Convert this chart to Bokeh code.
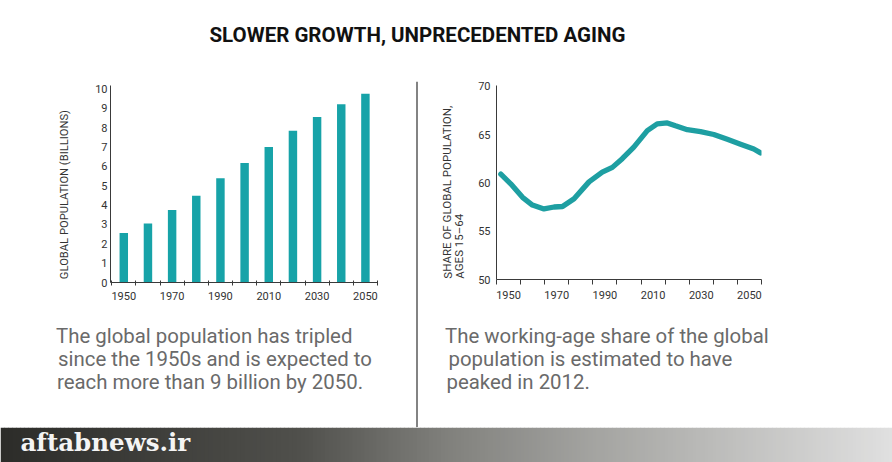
from bokeh.plotting import figure
from bokeh.models import Range1d, FixedTicker, Span, Spacer
from bokeh.layouts import row, column
from bokeh.core.properties import value
from bokeh.embed import file_html
from bokeh.resources import INLINE

# ---------------- data ----------------
TITLE = "SLOWER GROWTH, UNPRECEDENTED AGING"

pop_years = [1950, 1960, 1970, 1980, 1990, 2000, 2010, 2020, 2030, 2040, 2050]
pop_billions = [2.55, 3.05, 3.74, 4.48, 5.38, 6.17, 7.00, 7.83, 8.55, 9.20, 9.74]
pop_yticks = [0, 1, 2, 3, 4, 5, 6, 7, 8, 9, 10]
pop_ylabel = "GLOBAL POPULATION (BILLIONS)"

share_years = [1946.8, 1950.9, 1955.8, 1959.9, 1964.7, 1968.9, 1972.4, 1977.2, 1983.4,
               1988.9, 1993.1, 1997.2, 2002.0, 2007.6, 2011.7, 2015.9, 2019.3, 2024.2,
               2029.7, 2035.2, 2040.8, 2046.3, 2051.8, 2054.6]
share_pct = [60.9, 59.9, 58.5, 57.7, 57.3, 57.5, 57.55, 58.35, 60.1,
             61.1, 61.6, 62.5, 63.7, 65.4, 66.1, 66.2, 65.9, 65.5,
             65.3, 65.0, 64.5, 64.0, 63.5, 63.1]
share_yticks = [50, 55, 60, 65, 70]
share_ylabel = ["SHARE OF GLOBAL POPULATION,", "AGES 15\u201364"]

xtick_labels = [1950, 1970, 1990, 2010, 2030, 2050]
xtick_marks = [1945, 1955, 1965, 1975, 1985, 1995, 2005, 2015, 2025, 2035, 2045, 2055]

caption_left = ["The global population has tripled",
                "since the 1950s and is expected to",
                "reach more than 9 billion by 2050."]
caption_right = ["The working-age share of the global",
                 "population is estimated to have",
                 "peaked in 2012."]
SOURCE = "aftabnews.ir"

# ---------------- styles ----------------
TEAL_BAR = "#17a3a8"
TEAL_LINE = "#1e9fa2"
AXIS = "#3a3a3a"
TXT = "#333333"
CAP = "#6a6a6a"
FONT = "Roboto"


def canvas(w, h):
    p = figure(width=w, height=h, x_range=Range1d(0, w), y_range=Range1d(h, 0),
               output_backend="svg", toolbar_location=None,
               x_axis_location=None, y_axis_location=None, min_border=0)
    p.grid.grid_line_color = None
    p.outline_line_color = None
    p.background_fill_color = "white"
    p.border_fill_color = "white"
    return p


def style_chart(p):
    p.grid.grid_line_color = None
    p.outline_line_color = None
    p.background_fill_color = "white"
    p.border_fill_color = "white"
    for ax in p.axis:
        ax.axis_line_color = AXIS
        ax.axis_line_width = 1
        ax.major_label_text_font = FONT
        ax.major_label_text_font_size = "11px"
        ax.major_label_text_color = TXT
        ax.major_tick_in = 0
        ax.major_tick_out = 0
        ax.minor_tick_in = 0
        ax.minor_tick_out = 0
    p.xaxis.ticker = FixedTicker(ticks=xtick_labels, minor_ticks=xtick_marks)
    p.xaxis.minor_tick_line_color = AXIS
    p.xaxis.major_label_standoff = 6


# ---------------- title ----------------
title_fig = canvas(892, 70)
title_fig.text(x=[417], y=[34], text=[TITLE], text_font=value(FONT),
               text_font_size="20.5px", text_font_style="bold", text_color="#111111",
               text_align="center", text_baseline="middle")

# ---------------- left chart ----------------
ylab_l = canvas(75, 235)
ylab_l.text(x=[64], y=[231], text=[pop_ylabel], angle=1.5708, text_font=value(FONT),
            text_font_size="11.2px", text_color=TXT, text_align="left",
            text_baseline="middle")

chart_l = figure(width=340, height=235, x_range=Range1d(1944.5, 2055),
                 y_range=Range1d(0, 10.17), output_backend="svg", toolbar_location=None,
                 min_border_left=35, min_border_right=38, min_border_top=15,
                 min_border_bottom=23)
chart_l.vbar(x=pop_years, top=pop_billions, width=3.5, bottom=0,
             fill_color=TEAL_BAR, line_color=None)
style_chart(chart_l)
chart_l.yaxis.ticker = FixedTicker(ticks=pop_yticks)
chart_l.yaxis.major_label_standoff = 3
chart_l.xaxis.minor_tick_in = 2
chart_l.xaxis.minor_tick_out = 3

cap_l = canvas(415, 122)
cap_l.text(x=[55.5, 57.5, 56.5], y=[30, 53.3, 76.3], text=caption_left,
           text_font=value(FONT), text_font_size="20.4px", text_color=CAP,
           text_align="left", text_baseline="middle")

left_col = column(row(ylab_l, chart_l), cap_l)

# ---------------- divider ----------------
div_fig = canvas(3, 346)
div_fig.add_layout(Span(location=1.5, dimension="height", line_color="#5a5a5a",
                        line_width=1.5))
div_col = column(Spacer(width=3, height=11), div_fig)

# ---------------- right chart ----------------
ylab_r = canvas(50, 235)
ylab_r.text(x=[29, 41], y=[234, 234], text=share_ylabel, angle=1.5708,
            text_font=value(FONT), text_font_size="11.5px", text_color=TXT,
            text_align="left", text_baseline="middle")

chart_r = figure(width=424, height=235, x_range=Range1d(1945, 2055),
                 y_range=Range1d(50, 70.07), output_backend="svg", toolbar_location=None,
                 min_border_left=28, min_border_right=131, min_border_top=15,
                 min_border_bottom=26)
chart_r.line(x=share_years, y=share_pct, line_color=TEAL_LINE, line_width=5.3,
             line_cap="round", line_join="round")
style_chart(chart_r)
chart_r.yaxis.ticker = FixedTicker(ticks=share_yticks)
chart_r.yaxis.major_label_standoff = 6
chart_r.xaxis.minor_tick_out = 5

cap_r = canvas(474, 122)
cap_r.text(x=[26.5, 30, 28], y=[30, 53.3, 76.3], text=caption_right,
           text_font=value(FONT), text_font_size="20.4px", text_color=CAP,
           text_align="left", text_baseline="middle")

right_col = column(row(ylab_r, chart_r), cap_r)

# ---------------- banner ----------------
banner = canvas(892, 35)
stops_x = [0, 300, 446, 600, 800, 892]
stops_c = [(44, 44, 41), (80, 80, 76), (128, 128, 124), (165, 165, 162),
           (205, 205, 204), (224, 224, 224)]


def grad(px):
    for i in range(len(stops_x) - 1):
        if stops_x[i] <= px <= stops_x[i + 1]:
            t = (px - stops_x[i]) / (stops_x[i + 1] - stops_x[i])
            c = [round(a + (b - a) * t) for a, b in zip(stops_c[i], stops_c[i + 1])]
            return "#%02x%02x%02x" % tuple(c)
    return "#e0e0e0"


step = 4
lefts = list(range(0, 892, step))
banner.quad(left=lefts, right=[l + step + 0.5 for l in lefts], top=[0] * len(lefts),
            bottom=[35] * len(lefts), fill_color=[grad(l + step / 2) for l in lefts],
            line_color=None)
banner.text(x=[20], y=[15], text=[SOURCE], text_font=value("DejaVu Serif"),
            text_font_size="24.5px", text_font_style="bold", text_color="#f4f4f4",
            text_align="left", text_baseline="middle")

layout = column(title_fig, row(left_col, div_col, right_col), banner)

open("out.html", "w").write(file_html(layout, INLINE))
